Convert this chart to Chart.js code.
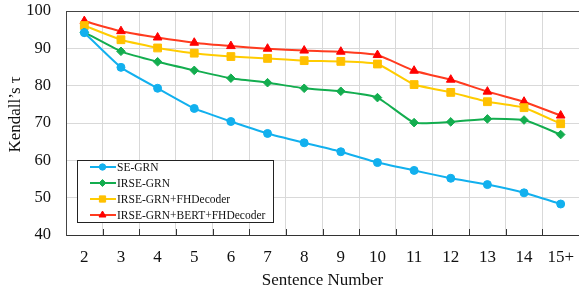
<!DOCTYPE html>
<html>
<head>
<meta charset="utf-8">
<script src="https://cdn.jsdelivr.net/npm/chart.js@4"></script>
<style>
  html, body { margin: 0; padding: 0; background: #fff; }
  #wrap { width: 579px; height: 291px; }
</style>
</head>
<body>
<div id="wrap"><canvas id="chart"></canvas></div>
<script>
// categories (sentence count)
var labels = ["2", "3", "4", "5", "6", "7", "8", "9", "10", "11", "12", "13", "14", "15+"];

// Kendall's tau per model
var seGrn = [94.2, 84.9, 79.3, 73.9, 70.4, 67.2, 64.7, 62.3, 59.4, 57.3, 55.2, 53.5, 51.3, 48.3];
var irseGrn = [94.3, 89.2, 86.4, 84.1, 82.0, 80.8, 79.3, 78.5, 76.8, 70.1, 70.3, 71.1, 70.8, 66.9];
var irseFh = [96.1, 92.3, 90.1, 88.7, 87.8, 87.3, 86.7, 86.5, 85.8, 80.3, 78.2, 75.7, 74.1, 69.8];
var irseBertFh = [97.3, 94.6, 92.9, 91.5, 90.6, 89.9, 89.4, 89.1, 88.2, 84.0, 81.6, 78.4, 75.7, 72.0];

var yTicks = [40, 50, 60, 70, 80, 90, 100];

var serif = "'Liberation Serif', 'Times New Roman', serif";

// legend box drawn inside the plot area, bottom-left
var boxLegend = {
    id: 'boxLegend',
    afterDatasetsDraw: function(chart) {
        var ctx = chart.ctx;
        var area = chart.chartArea;
        var sets = chart.data.datasets;
        var w = 196, rowH = 16, h = 62;
        var x0 = area.left + 11, y0 = area.bottom - 13 - h;
        ctx.save();
        ctx.fillStyle = '#fff';
        ctx.fillRect(x0, y0, w, h);
        ctx.strokeStyle = '#222';
        ctx.lineWidth = 1;
        ctx.strokeRect(x0 + 0.5, y0 + 0.5, w, h);
        ctx.font = '11.5px ' + serif;
        ctx.textBaseline = 'middle';
        sets.forEach(function(ds, i) {
            var cy = y0 + 7 + rowH * i;
            ctx.strokeStyle = ds.borderColor;
            ctx.lineWidth = 2;
            ctx.beginPath();
            ctx.moveTo(x0 + 13, cy);
            ctx.lineTo(x0 + 39, cy);
            ctx.stroke();
            ctx.fillStyle = ds.pointBackgroundColor;
            ctx.strokeStyle = ds.pointBorderColor;
            ctx.lineWidth = 1;
            Chart.helpers.drawPoint(ctx, {
                pointStyle: ds.pointStyle,
                radius: ds.pointRadius * 0.8,
                rotation: 0,
                borderWidth: 1
            }, x0 + 25.5, cy);
            ctx.fillStyle = '#111';
            ctx.fillText(ds.label, x0 + 40, cy + 1);
        });
        ctx.restore();
    }
};

// small tick marks on the bottom axis, pointing up into the plot
var innerTicks = {
    id: 'innerTicks',
    afterDraw: function(chart) {
        var ctx = chart.ctx;
        var xs = chart.scales.x;
        var area = chart.chartArea;
        var step = xs.getPixelForValue(1) - xs.getPixelForValue(0);
        ctx.save();
        ctx.strokeStyle = '#333';
        ctx.lineWidth = 1;
        for (var i = 1; i < labels.length; i++) {
            var px = Math.round(xs.getPixelForValue(i) - step / 2) + 0.5;
            ctx.beginPath();
            ctx.moveTo(px, area.bottom - 6);
            ctx.lineTo(px, area.bottom);
            ctx.stroke();
        }
        ctx.restore();
    }
};

function series(label, data, color, lineColor, style, r) {
    return {
        label: label,
        data: data,
        borderColor: lineColor,
        backgroundColor: color,
        pointBackgroundColor: color,
        pointBorderColor: color,
        pointStyle: style,
        pointRadius: r,
        pointBorderWidth: 1,
        borderWidth: 2,
        tension: 0.15,
        fill: false
    };
}

function noPad(scale) {
    scale.paddingTop = 0;
    scale.paddingBottom = 0;
    scale.paddingLeft = 0;
    scale.paddingRight = 0;
}

var ctx = document.getElementById('chart').getContext('2d');
var chart = new Chart(ctx, {
    type: 'line',
    data: {
        labels: labels,
        datasets: [
            series('SE-GRN', seGrn, '#12B0EE', '#12B0EE', 'circle', 4),
            series('IRSE-GRN', irseGrn, '#13AD4F', '#13AD4F', 'rectRot', 4.3),
            series('IRSE-GRN+FHDecoder', irseFh, '#FFC000', '#FFCC00', 'rect', 5.5),
            series('IRSE-GRN+BERT+FHDecoder', irseBertFh, '#FF0000', '#FF3B1F', 'triangle', 5)
        ]
    },
    options: {
        responsive: true,
        maintainAspectRatio: false,
        animation: false,
        layout: { autoPadding: false, padding: { top: 11, right: 0, left: 0, bottom: 0 } },
        plugins: {
            legend: { display: false },
            tooltip: { enabled: false }
        },
        scales: {
            x: {
                offset: true,
                grid: {
                    offset: true,
                    color: '#d9d9d9',
                    drawTicks: false
                },
                border: { color: '#333', width: 1 },
                ticks: {
                    color: '#111',
                    padding: 12,
                    font: { family: serif, size: 17 },
                    maxRotation: 0,
                    autoSkip: false
                },
                title: {
                    display: true,
                    text: 'Sentence Number',
                    color: '#111',
                    font: { family: serif, size: 17 },
                    padding: { top: 2, bottom: 0 }
                },
                afterFit: function(scale) { scale.height = 56; noPad(scale); }
            },
            y: {
                min: 40,
                max: 100,
                afterBuildTicks: function(scale) {
                    scale.ticks = yTicks.map(function(v) { return { value: v }; });
                },
                grid: {
                    color: function(c) { return c.tick && c.tick.value === 100 ? '#444' : '#d9d9d9'; },
                    drawTicks: false
                },
                border: { color: '#444', width: 1 },
                ticks: {
                    color: '#111',
                    padding: 15,
                    font: { family: serif, size: 16.5 }
                },
                title: {
                    display: true,
                    text: '\u2003Kendall\u2019s \u03c4',
                    color: '#111',
                    font: { family: serif, size: 17 },
                    padding: { top: 5, bottom: 0 }
                },
                afterFit: function(scale) { scale.width = 66; noPad(scale); }
            }
        }
    },
    plugins: [boxLegend, innerTicks]
});
</script>
</body>
</html>
